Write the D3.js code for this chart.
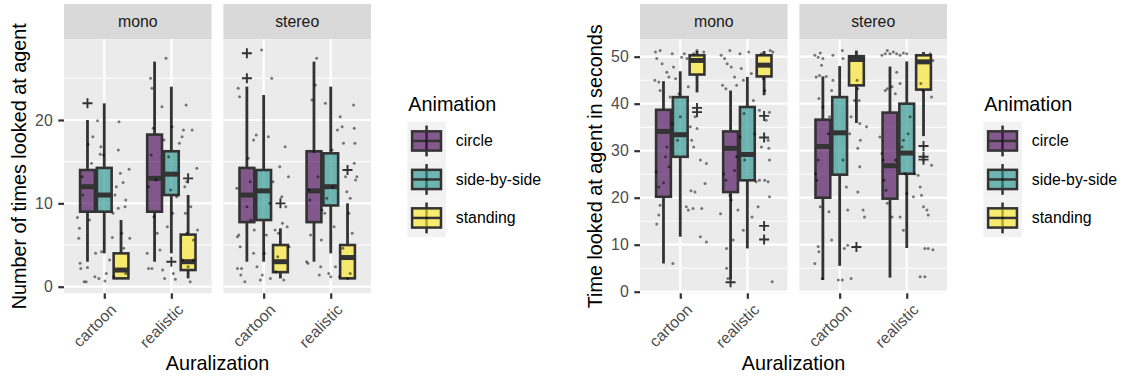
<!DOCTYPE html>
<html>
<head>
<meta charset="utf-8">
<script src="https://cdn.jsdelivr.net/npm/d3@7"></script>
<style>
  body { margin: 0; background: #fff; }
  svg { display: block; font-family: "Liberation Sans", Arial, sans-serif; }
</style>
</head>
<body>
<svg id="chart" width="1124" height="379"></svg>
<script>
const facets = ["mono", "stereo"];
const auralizations = ["cartoon", "realistic"];
const animations = ["circle", "side-by-side", "standing"];

const countTicks = [0, 10, 20];
const timeTicks = [0, 10, 20, 30, 40, 50];

// [facet, auralization, animation, lower whisker, q1, median, q3, upper whisker]
const countStats = [
  ["mono", "cartoon", "circle", 3, 9, 12, 14, 20],
  ["mono", "cartoon", "side-by-side", 4, 9, 11, 14.25, 22],
  ["mono", "cartoon", "standing", 1, 1, 2, 4, 8],
  ["mono", "realistic", "circle", 3, 9, 13, 18.25, 27],
  ["mono", "realistic", "side-by-side", 4, 11, 13.5, 16.25, 24],
  ["mono", "realistic", "standing", 1, 2, 3, 6.25, 11],
  ["stereo", "cartoon", "circle", 3, 7.75, 11, 14.25, 24],
  ["stereo", "cartoon", "side-by-side", 3, 8, 11.5, 14, 23],
  ["stereo", "cartoon", "standing", 1, 1.75, 3, 5, 7],
  ["stereo", "realistic", "circle", 3, 7.75, 11.5, 16.25, 27],
  ["stereo", "realistic", "side-by-side", 4, 9.75, 12, 16, 24],
  ["stereo", "realistic", "standing", 1, 1, 3.5, 5, 10]
];
const countOutliers = [
  ["mono", "cartoon", "circle", 22],
  ["mono", "realistic", "side-by-side", 3],
  ["mono", "realistic", "standing", 13],
  ["stereo", "cartoon", "circle", 25],
  ["stereo", "cartoon", "circle", 28],
  ["stereo", "cartoon", "standing", 10],
  ["stereo", "realistic", "standing", 14]
];

const timeStats = [
  ["mono", "cartoon", "circle", 6, 20.2, 34.1, 38.7, 44.8],
  ["mono", "cartoon", "side-by-side", 11.7, 28.7, 33.4, 41.4, 46.9],
  ["mono", "cartoon", "standing", 42.4, 46.2, 49.2, 50.3, 51.2],
  ["mono", "realistic", "circle", 2.6, 21.2, 30.5, 34.1, 42.8],
  ["mono", "realistic", "side-by-side", 9.2, 23.7, 29.2, 39.3, 45.7],
  ["mono", "realistic", "standing", 41.8, 45.8, 48.2, 50.3, 51.2],
  ["stereo", "cartoon", "circle", 2.5, 20, 30.9, 36.6, 45.8],
  ["stereo", "cartoon", "side-by-side", 5.5, 24.9, 33.8, 41.4, 48],
  ["stereo", "cartoon", "standing", 35.9, 43.9, 49.4, 50.1, 51.3],
  ["stereo", "realistic", "circle", 3, 19.8, 26.8, 38.1, 47.9],
  ["stereo", "realistic", "side-by-side", 9.3, 25.1, 29.5, 40, 49],
  ["stereo", "realistic", "standing", 33.1, 43, 48.9, 50.3, 51]
];
const timeOutliers = [
  ["mono", "cartoon", "standing", 39.1],
  ["mono", "cartoon", "standing", 38.2],
  ["mono", "realistic", "circle", 2],
  ["mono", "realistic", "standing", 37.4],
  ["mono", "realistic", "standing", 32.8],
  ["mono", "realistic", "standing", 14],
  ["mono", "realistic", "standing", 11.1],
  ["stereo", "cartoon", "standing", 9.5],
  ["stereo", "realistic", "standing", 31],
  ["stereo", "realistic", "standing", 28.7],
  ["stereo", "realistic", "standing", 28.1]
];

// jittered raw observations: [jitter offset (category units), value]
const countMonoCartoon = [
  [-0.40, 8.3], [-0.37, 7.0], [-0.38, 5.8], [-0.36, 2.8], [-0.35, 2.2], [-0.30, 0.6], [-0.27, 0.6],
  [-0.25, 2.3], [-0.22, 8.0], [-0.24, 17.1], [-0.17, 18.0], [-0.32, 11.0], [-0.33, 13.2], [-0.19, 14.8],
  [-0.14, 1.2], [-0.08, 1.0], [-0.13, 4.0], [-0.10, 19.9], [-0.05, 16.8], [-0.01, 15.8], [-0.06, 15.9],
  [0.01, 0.7], [0.03, 1.6], [-0.04, 4.2], [0.13, 8.8], [0.16, 11.0], [0.18, 12.0], [0.21, 16.4],
  [0.22, 19.8], [0.24, 13.6], [0.28, 12.5], [0.31, 9.6], [0.32, 10.4], [0.26, 6.4], [0.29, 4.6],
  [0.38, 5.8], [0.37, 14.1], [0.12, 5.9], [0.08, 3.2], [0.14, 1.2], [0.32, 1.6], [0.21, 9.4]
];
const countMonoRealistic = [
  [-0.36, 4.0], [-0.34, 2.2], [-0.29, 2.2], [-0.31, 25.0], [-0.29, 23.8], [-0.27, 19.0], [-0.30, 15.8],
  [-0.34, 12.0], [-0.23, 12.8], [-0.26, 8.4], [-0.21, 6.4], [-0.17, 4.4], [-0.14, 21.6], [-0.11, 17.6],
  [-0.13, 2.0], [-0.10, 1.0], [-0.08, 27.4], [-0.06, 7.2], [-0.04, 15.6], [-0.01, 11.6], [0.01, 19.2],
  [0.03, 1.6], [0.06, 0.9], [0.02, 8.8], [0.08, 10.8], [0.12, 17.2], [0.16, 18.0], [0.18, 18.8],
  [0.20, 12.0], [0.23, 12.6], [0.22, 21.8], [0.21, 8.8], [0.23, 6.4], [0.25, 2.4], [0.28, 0.6],
  [0.33, 5.6], [0.38, 14.2], [0.39, 6.8], [0.33, 3.2], [0.17, 3.2], [0.29, 9.6], [0.31, 18.8]
];
const countStereoCartoon = [
  [-0.38, 23.8], [-0.36, 22.8], [-0.40, 11.8], [-0.39, 6.0], [-0.37, 6.2], [-0.35, 4.8], [-0.39, 2.2],
  [-0.33, 2.2], [-0.34, 1.4], [-0.28, 0.6], [-0.25, 9.6], [-0.23, 15.4], [-0.20, 12.6], [-0.19, 8.0],
  [-0.15, 17.6], [-0.11, 18.2], [-0.14, 6.8], [-0.15, 4.0], [-0.10, 2.4], [-0.05, 0.8], [-0.03, 28.4],
  [-0.02, 1.4], [0.01, 4.0], [0.04, 6.2], [0.07, 18.0], [0.09, 10.0], [0.10, 1.0], [0.12, 25.0],
  [0.14, 12.6], [0.17, 6.8], [0.18, 1.8], [0.22, 6.4], [0.24, 14.4], [0.27, 10.8], [0.28, 7.6],
  [0.30, 0.8], [0.32, 16.8], [0.35, 7.2], [0.37, 13.2], [0.38, 4.8], [0.33, 9.6], [0.21, 3.6]
];
const countStereoRealistic = [
  [-0.36, 3.0], [-0.34, 2.8], [-0.33, 11.6], [-0.31, 10.4], [-0.28, 22.4], [-0.25, 16.2], [-0.30, 6.2],
  [-0.23, 24.2], [-0.21, 27.4], [-0.19, 13.2], [-0.17, 1.4], [-0.15, 2.4], [-0.14, 5.6], [-0.13, 9.2],
  [-0.09, 8.8], [-0.08, 22.0], [-0.06, 10.6], [-0.03, 1.6], [0.00, 1.2], [0.02, 16.4], [0.03, 12.0],
  [0.05, 7.2], [0.07, 2.4], [0.10, 18.8], [0.13, 1.2], [0.14, 20.4], [0.17, 19.2], [0.19, 17.2],
  [0.22, 13.2], [0.24, 11.4], [0.27, 8.8], [0.29, 10.6], [0.32, 6.4], [0.34, 21.8], [0.35, 19.0],
  [0.36, 17.2], [0.37, 12.8], [0.39, 13.2], [0.29, 1.6], [0.25, 1.0], [0.18, 4.6], [0.35, 14.8]
];

const timeMonoCartoon = [
  [-0.37, 51.0], [-0.30, 51.3], [-0.35, 49.6], [-0.27, 48.5], [-0.38, 45.0], [-0.32, 44.6], [-0.30, 42.8],
  [-0.20, 46.7], [-0.17, 45.7], [-0.12, 50.6], [-0.10, 47.8], [-0.07, 45.3], [-0.15, 41.4], [-0.12, 35.8],
  [-0.20, 30.8], [-0.22, 28.7], [-0.17, 26.6], [-0.36, 25.5], [-0.32, 22.3], [-0.30, 18.4], [-0.32, 16.3],
  [-0.35, 14.4], [-0.25, 23.2], [-0.11, 6.0], [-0.02, 42.1], [0.00, 37.2], [-0.04, 32.2], [0.02, 49.9],
  [0.06, 50.6], [0.10, 49.6], [0.12, 43.6], [0.15, 35.1], [0.17, 32.2], [0.09, 18.1], [0.12, 17.4],
  [0.19, 17.7], [0.16, 21.5], [0.22, 21.2], [0.20, 30.8], [0.22, 37.2], [0.25, 34.7], [0.32, 17.7],
  [0.30, 11.7], [0.39, 10.6], [0.39, 27.3], [0.37, 23.0], [0.30, 28.0], [0.20, 50.6], [0.25, 51.3],
  [0.35, 51.0]
];
const timeMonoRealistic = [
  [-0.39, 50.3], [-0.34, 49.6], [-0.30, 48.5], [-0.37, 43.9], [-0.32, 43.2], [-0.26, 51.3], [-0.24, 47.8],
  [-0.19, 45.7], [-0.16, 43.9], [-0.11, 50.6], [-0.09, 47.5], [-0.06, 45.0], [-0.40, 16.6], [-0.35, 25.1],
  [-0.32, 23.7], [-0.31, 9.2], [-0.31, 5.0], [-0.29, 2.8], [-0.26, 20.5], [-0.24, 19.5], [-0.21, 11.0],
  [-0.19, 25.8], [-0.16, 28.7], [-0.14, 17.4], [-0.11, 32.9], [-0.05, 37.9], [-0.06, 13.1], [-0.04, 28.0],
  [0.02, 51.0], [0.06, 46.4], [0.09, 40.7], [0.11, 33.6], [0.07, 15.9], [0.16, 18.1], [0.13, 23.4],
  [0.18, 38.6], [0.21, 30.8], [0.18, 23.7], [0.24, 45.3], [0.26, 42.8], [0.28, 36.5], [0.31, 32.2],
  [0.32, 30.5], [0.33, 28.0], [0.26, 23.7], [0.31, 23.4], [0.33, 20.2], [0.37, 2.1], [0.34, 51.3],
  [0.38, 51.0], [0.21, 50.6], [0.33, 38.2]
];
const timeStereoCartoon = [
  [-0.37, 50.3], [-0.32, 49.9], [-0.29, 50.8], [-0.25, 49.6], [-0.27, 48.2], [-0.35, 45.7], [-0.30, 46.0],
  [-0.20, 45.8], [-0.31, 41.1], [-0.25, 39.3], [-0.36, 25.1], [-0.34, 23.7], [-0.32, 28.0], [-0.29, 18.1],
  [-0.32, 9.6], [-0.37, 6.0], [-0.31, 8.5], [-0.26, 2.8], [-0.12, 11.0], [-0.16, 17.0], [-0.17, 33.6],
  [-0.15, 37.2], [-0.12, 42.8], [-0.10, 45.0], [-0.10, 50.3], [0.04, 51.3], [0.05, 49.6], [-0.02, 2.5],
  [0.04, 2.5], [0.07, 9.2], [0.12, 9.9], [0.17, 2.8], [0.12, 17.4], [0.10, 22.3], [0.05, 28.0],
  [0.15, 33.6], [0.17, 37.2], [0.22, 40.7], [0.27, 43.2], [0.29, 40.7], [0.30, 35.8], [0.31, 32.2],
  [0.27, 30.5], [0.30, 26.6], [0.27, 21.2], [0.40, 35.1], [0.35, 17.4], [0.37, 15.9], [0.26, 45.0]
];
const timeStereoRealistic = [
  [-0.37, 50.3], [-0.32, 50.6], [-0.29, 51.3], [-0.25, 50.6], [-0.20, 51.0], [-0.15, 50.6], [-0.10, 50.3],
  [-0.05, 50.8], [0.00, 50.6], [-0.32, 42.8], [-0.29, 43.2], [-0.22, 43.6], [-0.17, 42.1], [-0.10, 44.3],
  [-0.15, 46.7], [-0.40, 32.9], [-0.37, 29.4], [-0.35, 28.0], [-0.34, 23.7], [-0.31, 21.6], [-0.29, 18.8],
  [-0.22, 15.9], [-0.10, 15.9], [-0.05, 13.1], [0.00, 20.9], [-0.02, 25.1], [-0.07, 30.8], [0.05, 37.2],
  [0.02, 33.6], [-0.05, 32.2], [-0.17, 28.0], [0.10, 20.2], [0.12, 25.1], [0.17, 24.8], [0.20, 22.3],
  [0.22, 20.5], [0.25, 18.1], [0.30, 17.4], [0.32, 16.3], [0.37, 26.9], [0.39, 8.9], [0.32, 9.2],
  [0.27, 9.2], [0.20, 3.2], [0.27, 3.2], [0.37, 41.4], [0.39, 49.2], [0.35, 50.6], [0.21, 44.3],
  [0.24, 42.8]
];

const countJitter = {
  mono: { cartoon: countMonoCartoon, realistic: countMonoRealistic },
  stereo: { cartoon: countStereoCartoon, realistic: countStereoRealistic }
};
const timeJitter = {
  mono: { cartoon: timeMonoCartoon, realistic: timeMonoRealistic },
  stereo: { cartoon: timeStereoCartoon, realistic: timeStereoRealistic }
};

const fillColor = d3.scaleOrdinal().domain(animations).range(["#440154", "#21908C", "#FDE725"]);
const fillAlpha = 0.63;
const ink = "#333333";

const svg = d3.select("#chart");
const panelTop = 39.3, panelBottom = 293.3, stripTop = 4;
const panelW = 147.6, panelGap = 11.8;
const small = 15.84, big = 19.8;

function drawPlot(o) {
  const g = svg.append("g");
  const y = d3.scaleLinear().domain(o.yDomain).range([panelBottom, panelTop]);
  const minor = d3.range(o.yTicks.length - 1).map(i => (o.yTicks[i] + o.yTicks[i + 1]) / 2)
    .concat([o.yTicks[o.yTicks.length - 1] + (o.yTicks[1] - o.yTicks[0]) / 2])
    .filter(v => y(v) > panelTop);

  facets.forEach((facet, fi) => {
    const x0 = o.left + fi * (panelW + panelGap);
    const x = d3.scalePoint().domain(auralizations).range([x0, x0 + panelW]).padding(0.6);
    const step = x.step();
    const boxW = step * 0.25;
    const dodge = a => (animations.indexOf(a) - 1) * boxW;

    // strip
    g.append("rect").attr("x", x0).attr("y", stripTop).attr("width", panelW)
      .attr("height", panelTop - stripTop).attr("fill", "#D9D9D9");
    g.append("text").attr("x", x0 + panelW / 2).attr("y", (stripTop + panelTop) / 2)
      .attr("dy", "0.35em").attr("text-anchor", "middle").attr("font-size", small)
      .attr("fill", "#1A1A1A").text(facet);

    // panel + grid
    g.append("rect").attr("x", x0).attr("y", panelTop).attr("width", panelW)
      .attr("height", panelBottom - panelTop).attr("fill", "#EBEBEB");
    g.selectAll(null).data(minor).join("line")
      .attr("x1", x0).attr("x2", x0 + panelW).attr("y1", d => y(d)).attr("y2", d => y(d))
      .attr("stroke", "#fff").attr("stroke-width", 1.1);
    g.selectAll(null).data(o.yTicks).join("line")
      .attr("x1", x0).attr("x2", x0 + panelW).attr("y1", d => y(d)).attr("y2", d => y(d))
      .attr("stroke", "#fff").attr("stroke-width", 2.2);
    g.selectAll(null).data(auralizations).join("line")
      .attr("x1", d => x(d)).attr("x2", d => x(d)).attr("y1", panelTop).attr("y2", panelBottom)
      .attr("stroke", "#fff").attr("stroke-width", 2.2);

    // boxes
    const stats = o.stats.filter(d => d[0] === facet);
    const bx = g.selectAll(null).data(stats).join("g")
      .attr("transform", d => `translate(${x(d[1]) + dodge(d[2])},0)`);
    bx.append("line").attr("y1", d => y(d[3])).attr("y2", d => y(d[4]))
      .attr("stroke", ink).attr("stroke-width", 2.8);
    bx.append("line").attr("y1", d => y(d[6])).attr("y2", d => y(d[7]))
      .attr("stroke", ink).attr("stroke-width", 2.8);
    bx.append("rect").attr("x", -boxW / 2 + 1).attr("width", boxW - 2)
      .attr("y", d => y(d[6])).attr("height", d => y(d[4]) - y(d[6]))
      .attr("fill", d => fillColor(d[2])).attr("fill-opacity", fillAlpha)
      .attr("stroke", ink).attr("stroke-width", 2.6);
    bx.append("line").attr("x1", -boxW / 2 + 1).attr("x2", boxW / 2 - 1)
      .attr("y1", d => y(d[5])).attr("y2", d => y(d[5]))
      .attr("stroke", ink).attr("stroke-width", 5);

    // jittered observations
    auralizations.forEach(a => {
      g.selectAll(null).data(o.jitter[facet][a]).join("circle")
        .attr("cx", d => x(a) + d[0] * step).attr("cy", d => y(d[1])).attr("r", 1.5)
        .attr("fill", "#000").attr("fill-opacity", 0.5);
    });

    // outliers as "+"
    const outs = o.outliers.filter(d => d[0] === facet);
    g.selectAll(null).data(outs).join("path")
      .attr("d", d => {
        const cx = x(d[1]) + dodge(d[2]), cy = y(d[3]), s = 5;
        return `M${cx - s},${cy}H${cx + s}M${cx},${cy - s}V${cy + s}`;
      })
      .attr("stroke", ink).attr("stroke-width", 1.9).attr("fill", "none");

    // x axis
    const xa = g.append("g").attr("transform", `translate(0,${panelBottom})`)
      .call(d3.axisBottom(x).tickSize(5.5));
    xa.select(".domain").remove();
    xa.selectAll(".tick line").attr("stroke", ink).attr("stroke-width", 2.2);
    xa.selectAll(".tick text")
      .attr("x", 0).attr("y", 0).attr("dy", "0.75em")
      .attr("transform", "translate(4,9) rotate(-45)")
      .attr("text-anchor", "end").attr("font-size", small).attr("fill", "#4D4D4D")
      .attr("font-family", null);
  });

  // y axis
  const ya = g.append("g").attr("transform", `translate(${o.left},0)`)
    .call(d3.axisLeft(y).tickValues(o.yTicks).tickSize(5.7).tickPadding(5.6));
  ya.select(".domain").remove();
  ya.selectAll(".tick line").attr("stroke", ink).attr("stroke-width", 2.2);
  ya.selectAll(".tick text").attr("font-size", small).attr("fill", "#4D4D4D")
    .attr("font-family", null);

  // titles
  const midX = o.left + panelW + panelGap / 2;
  g.append("text").attr("x", midX).attr("y", 370).attr("text-anchor", "middle")
    .attr("font-size", big).attr("fill", "#000").text("Auralization");
  g.append("text").attr("transform", `translate(${o.yTitleX},${(panelTop + panelBottom) / 2}) rotate(-90)`)
    .attr("text-anchor", "middle").attr("font-size", big).attr("fill", "#000").text(o.yTitle);

  // legend
  const key = 38.5;
  const lg = g.append("g").attr("transform", `translate(${o.legendX},0)`);
  lg.append("text").attr("x", 1).attr("y", 110.7).attr("font-size", big).attr("fill", "#000")
    .text("Animation");
  const items = lg.selectAll(null).data(animations).join("g")
    .attr("transform", (d, i) => `translate(0,${121.7 + i * key})`);
  items.append("rect").attr("width", key).attr("height", key).attr("fill", "#F2F2F2");
  items.append("line").attr("x1", key / 2).attr("x2", key / 2)
    .attr("y1", key * 0.1).attr("y2", key * 0.9).attr("stroke", ink).attr("stroke-width", 2.5);
  items.append("rect").attr("x", key * 0.125).attr("y", key * 0.25)
    .attr("width", key * 0.75).attr("height", key * 0.5)
    .attr("fill", d => fillColor(d)).attr("fill-opacity", fillAlpha)
    .attr("stroke", ink).attr("stroke-width", 2.5);
  items.append("line").attr("x1", key * 0.125).attr("x2", key * 0.875)
    .attr("y1", key / 2).attr("y2", key / 2).attr("stroke", ink).attr("stroke-width", 2.5);
  items.append("circle").attr("cx", key / 2).attr("cy", key / 2).attr("r", 1.3)
    .attr("fill", "#000").attr("fill-opacity", 0.5);
  items.append("text").attr("x", key + 10).attr("y", key / 2).attr("dy", "0.35em")
    .attr("font-size", small).attr("fill", "#000").text(d => d);
}

drawPlot({
  left: 64,
  yDomain: [-0.79, 29.68],
  yTicks: countTicks,
  stats: countStats,
  outliers: countOutliers,
  jitter: countJitter,
  yTitle: "Number of times looked at agent",
  yTitleX: 26,
  legendX: 407.3
});

drawPlot({
  left: 640,
  yDomain: [-0.34, 53.7],
  yTicks: timeTicks,
  stats: timeStats,
  outliers: timeOutliers,
  jitter: timeJitter,
  yTitle: "Time looked at agent in seconds",
  yTitleX: 602,
  legendX: 983.3
});
</script>
</body>
</html>
